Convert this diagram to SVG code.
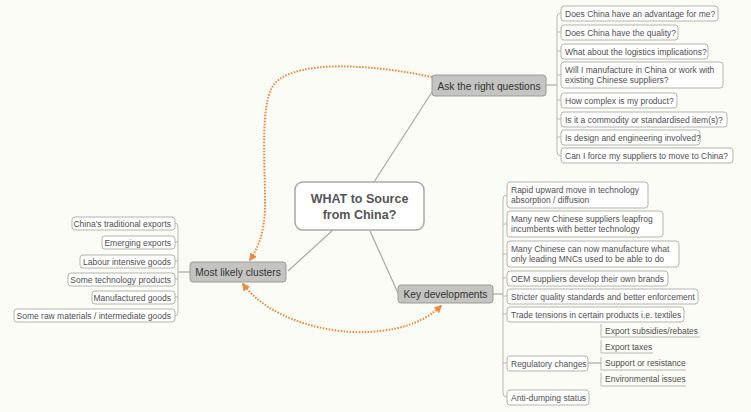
<svg xmlns="http://www.w3.org/2000/svg" width="751" height="412" viewBox="0 0 751 412">
<defs>
<style>
.bg{fill:#fcfcf6}
.box{fill:#ffffff;stroke:#b4b4b0;stroke-width:1}
.main{fill:#c4c4c2;stroke:#9a9a98;stroke-width:1}
.center{fill:#ffffff;stroke:#a8a8a6;stroke-width:1.5}
.t{font-family:"Liberation Sans",Arial,sans-serif;font-size:8.5px;fill:#505050}
.tm{font-family:"Liberation Sans",Arial,sans-serif;font-size:10.2px;fill:#333}
.tc{font-family:"Liberation Sans",Arial,sans-serif;font-size:12.5px;font-weight:bold;fill:#555;text-anchor:middle}
.ln{fill:none;stroke:#a8a8a6;stroke-width:1.2}
.br{fill:none;stroke:#b8b8b4;stroke-width:1}
.dot{fill:none;stroke:#ea8a45;stroke-width:2;stroke-dasharray:1.6 1.4}
</style>
<marker id="ah" viewBox="0 0 10 10" refX="8" refY="5" markerWidth="4" markerHeight="4" orient="auto-start-reverse" markerUnits="strokeWidth">
<path d="M0,0 L10,5 L0,10 z" fill="#ea8a45"/>
</marker>
</defs>
<rect class="bg" x="0" y="0" width="751" height="412"/>

<g id="connectors">
<path class="ln" d="M374,182 L432,92"/>
<path class="ln" d="M333,230 L288,271"/>
<path class="ln" d="M370,231 L398,293"/>
<path class="ln" d="M546,85 H557"/>
<path class="ln" d="M493,294 H503"/>
<path class="ln" d="M190,272 H178"/>
<path class="ln" d="M588,363 H601"/>
<path class="br" d="M561,13 Q557,13 557,17 V152 Q557,156 561,156 M557,32 H561 M557,51 H561 M557,75 H561 M557,100 H561 M557,119 H561 M557,137 H561"/>
<path class="br" d="M507,195 Q503,195 503,199 V393 Q503,397 507,397 M503,224 H507 M503,254 H507 M503,278 H507 M503,296 H507 M503,314 H507 M503,363 H507"/>
<path class="br" d="M175,223 Q178,223 178,227 V312 Q178,316 175,316 M178,242 H175 M178,261 H175 M178,279 H175 M178,297 H175"/>
<path class="dot" d="M432,77 C370,64 300,60 276,82 C258,100 266,170 265,210 C264,233 258,248 250,260" marker-end="url(#ah)"/>
<path class="dot" d="M243,284 C268,318 325,334 368,332 C408,330 428,318 441,306" marker-start="url(#ah)" marker-end="url(#ah)"/>
</g>

<g id="center">
<rect class="center" x="295" y="182" width="129" height="48" rx="8"/>
<text class="tc" x="359.5" y="203">WHAT to Source</text>
<text class="tc" x="359.5" y="219">from China?</text>
</g>

<g id="ask">
<rect class="main" x="432" y="75" width="114" height="21" rx="3"/>
<text class="tm" x="489" y="89.5" text-anchor="middle">Ask the right questions</text>
</g>
<g id="clusters">
<rect class="main" x="190" y="262" width="96" height="20" rx="3"/>
<text class="tm" x="238" y="275.5" text-anchor="middle">Most likely clusters</text>
</g>
<g id="keydev">
<rect class="main" x="398" y="285" width="95" height="18" rx="3"/>
<text class="tm" x="445.5" y="297.5" text-anchor="middle">Key developments</text>
</g>

<g id="q1"><rect class="box" x="561" y="6" width="157" height="15" rx="3"/><text class="t" x="565" y="16.5">Does China have an advantage for me?</text></g>
<g id="q2"><rect class="box" x="561" y="25" width="117" height="15" rx="3"/><text class="t" x="565" y="35.5">Does China have the quality?</text></g>
<g id="q3"><rect class="box" x="561" y="44" width="147" height="15" rx="3"/><text class="t" x="565" y="54.5">What about the logistics implications?</text></g>
<g id="q4"><rect class="box" x="561" y="62" width="162" height="26" rx="3"/><text class="t" x="565" y="72.5">Will I manufacture in China or work with</text><text class="t" x="565" y="83">existing Chinese suppliers?</text></g>
<g id="q5"><rect class="box" x="561" y="93" width="116" height="15" rx="3"/><text class="t" x="565" y="103.5">How complex is my product?</text></g>
<g id="q6"><rect class="box" x="561" y="112" width="166" height="15" rx="3"/><text class="t" x="565" y="122.5">Is it a commodity or standardised item(s)?</text></g>
<g id="q7"><rect class="box" x="561" y="130" width="139" height="15" rx="3"/><text class="t" x="565" y="140.5">Is design and engineering involved?</text></g>
<g id="q8"><rect class="box" x="561" y="148" width="172" height="15" rx="3"/><text class="t" x="565" y="158.5">Can I force my suppliers to move to China?</text></g>

<g id="k1"><rect class="box" x="507" y="182" width="141" height="26" rx="3"/><text class="t" x="511" y="192.5">Rapid upward move in technology</text><text class="t" x="511" y="203">absorption / diffusion</text></g>
<g id="k2"><rect class="box" x="507" y="211" width="156" height="26" rx="3"/><text class="t" x="511" y="221.5">Many new Chinese suppliers leapfrog</text><text class="t" x="511" y="232">incumbents with better technology</text></g>
<g id="k3"><rect class="box" x="507" y="241" width="172" height="26" rx="3"/><text class="t" x="511" y="251.5">Many Chinese can now manufacture what</text><text class="t" x="511" y="262">only leading MNCs used to be able to do</text></g>
<g id="k4"><rect class="box" x="507" y="271" width="161" height="15" rx="3"/><text class="t" x="511" y="281.5">OEM suppliers develop their own brands</text></g>
<g id="k5"><rect class="box" x="507" y="289" width="191" height="15" rx="3"/><text class="t" x="511" y="299.5">Stricter quality standards and better enforcement</text></g>
<g id="k6"><rect class="box" x="507" y="307" width="177" height="15" rx="3"/><text class="t" x="511" y="317.5">Trade tensions in certain products i.e. textiles</text></g>
<g id="k7"><rect class="box" x="507" y="356" width="81" height="15" rx="3"/><text class="t" x="511" y="366.5">Regulatory changes</text></g>
<g id="k8"><rect class="box" x="507" y="390" width="82" height="15" rx="3"/><text class="t" x="511" y="400.5">Anti-dumping status</text></g>

<g id="r1"><path class="br" d="M601,324 V337 H700"/><text class="t" x="605" y="333.5">Export subsidies/rebates</text></g>
<g id="r2"><path class="br" d="M601,340 V353 H653"/><text class="t" x="605" y="349.5">Export taxes</text></g>
<g id="r3"><path class="br" d="M601,357 V370 H686"/><text class="t" x="605" y="366">Support or resistance</text></g>
<g id="r4"><path class="br" d="M601,373 V386 H686"/><text class="t" x="605" y="382">Environmental issues</text></g>

<g id="c1"><rect class="box" x="72" y="217" width="103" height="13" rx="3"/><text class="t" x="171" y="226.5" text-anchor="end">China's traditional exports</text></g>
<g id="c2"><rect class="box" x="102" y="236" width="73" height="13" rx="3"/><text class="t" x="171" y="245.5" text-anchor="end">Emerging exports</text></g>
<g id="c3"><rect class="box" x="80" y="255" width="95" height="13" rx="3"/><text class="t" x="171" y="264.5" text-anchor="end">Labour intensive goods</text></g>
<g id="c4"><rect class="box" x="68" y="273" width="107" height="13" rx="3"/><text class="t" x="171" y="282.5" text-anchor="end">Some technology products</text></g>
<g id="c5"><rect class="box" x="92" y="291" width="83" height="13" rx="3"/><text class="t" x="171" y="300.5" text-anchor="end">Manufactured goods</text></g>
<g id="c6"><rect class="box" x="14" y="309" width="161" height="13" rx="3"/><text class="t" x="171" y="318.5" text-anchor="end">Some raw materials / intermediate goods</text></g>
</svg>
